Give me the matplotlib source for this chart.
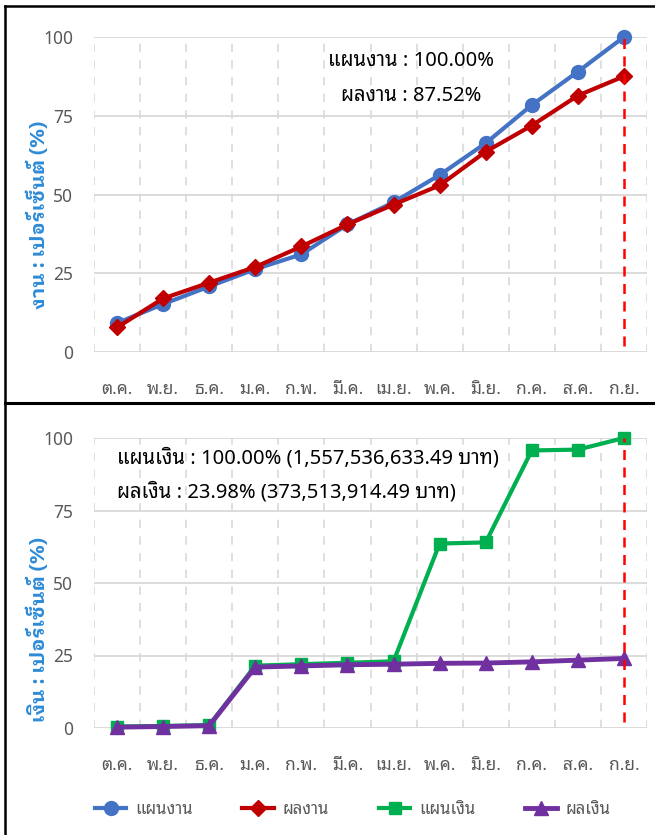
import matplotlib
matplotlib.use('Agg')
import matplotlib.pyplot as plt
from matplotlib.lines import Line2D

plt.rcParams['font.family'] = ['Noto Sans', 'Noto Sans Thai Looped', 'DejaVu Sans']

months = ['ต.ค.', 'พ.ย.', 'ธ.ค.', 'ม.ค.', 'ก.พ.', 'มี.ค.', 'เม.ย.', 'พ.ค.', 'มิ.ย.', 'ก.ค.', 'ส.ค.', 'ก.ย.']
plan_work = [9.2, 15.2, 20.8, 26.3, 31.0, 40.5, 47.5, 56.2, 66.3, 78.4, 89.0, 100.0]
result_work = [7.8, 17.0, 22.0, 27.0, 33.5, 40.5, 46.8, 52.9, 63.6, 71.9, 81.4, 87.52]
plan_money = [0.5, 0.7, 1.0, 21.5, 22.0, 22.5, 23.0, 63.6, 64.0, 95.7, 96.0, 100.0]
result_money = [0.3, 0.5, 0.8, 21.0, 21.4, 21.8, 22.0, 22.3, 22.4, 22.8, 23.4, 23.98]

C_BLUE = '#4472C4'
C_RED = '#C00000'
C_GREEN = '#00B050'
C_PURPLE = '#7030A0'
C_GRID = '#D9D9D9'
C_TICK = '#595959'
C_YLAB = '#2E8BD6'

W, H = 655, 835
fig = plt.figure(figsize=(W / 100, H / 100), dpi=100)
fig.patch.set_facecolor('white')

# panel frame lines (left edge, top edge, divider)
fig.add_artist(Line2D([5 / W, 5 / W], [0, 1 - 6 / H], transform=fig.transFigure, color='black', lw=1.8))
fig.add_artist(Line2D([5 / W, 1], [1 - 6 / H, 1 - 6 / H], transform=fig.transFigure, color='black', lw=1.8))
fig.add_artist(Line2D([5 / W, 1], [1 - 403 / H, 1 - 403 / H], transform=fig.transFigure, color='black', lw=2.2))

ax1 = fig.add_axes([94 / W, 1 - 352 / H, 553 / W, 315 / H])
ax2 = fig.add_axes([94 / W, 1 - 728 / H, 553 / W, 290 / H])

x = list(range(len(months)))


def style(ax, ylabel, ylab_y):
    ax.set_xlim(-0.5, len(months) - 0.5)
    ax.set_ylim(0, 100)
    ax.set_yticks([0, 25, 50, 75, 100])
    ax.set_xticks(x)
    ax.set_xticklabels(months)
    for s in ax.spines.values():
        s.set_visible(False)
    ax.tick_params(length=0, labelsize=12.5, colors=C_TICK)
    ax.tick_params(axis='y', pad=15)
    ax.tick_params(axis='x', pad=20)
    for yv in [0, 25, 50, 75, 100]:
        ax.axhline(yv, color=C_GRID, lw=1.3, zorder=0)
    for xv in [i - 0.5 for i in range(len(months) + 1)]:
        ax.plot([xv, xv], [0, 100], color=C_GRID, lw=1.2, ls=(0, (5, 5)), zorder=0)
    ax.set_ylabel(ylabel, color=C_YLAB, fontsize=14.5, fontweight='bold',
                  family=['IBM Plex Sans Thai Looped', 'DejaVu Sans'])
    ax.yaxis.set_label_coords(-0.082, ylab_y)
    ax.plot([11, 11], [2, 100], color='#FF0000', lw=1.8, ls=(0, (4, 3)), zorder=5, clip_on=False)


style(ax1, 'งาน : เปอร์เซ็นต์ (%)', 0.435)
style(ax2, 'เงิน : เปอร์เซ็นต์ (%)', 0.338)

ax1.plot(x, plan_work, color=C_BLUE, lw=3, marker='o', ms=10, clip_on=False, zorder=3)
ax1.plot(x, result_work, color=C_RED, lw=3, marker='D', ms=8, clip_on=False, zorder=4)
ax1.text(6.38, 92.3, 'แผนงาน : 100.00%', fontsize=14.5, ha='center', va='center')
ax1.text(6.38, 81.3, 'ผลงาน : 87.52%', fontsize=14.5, ha='center', va='center')

ax2.plot(x, plan_money, color=C_GREEN, lw=3, marker='s', ms=9, clip_on=False, zorder=3)
ax2.plot(x, result_money, color=C_PURPLE, lw=3.5, marker='^', ms=10, clip_on=False, zorder=4)
ax2.text(0.0, 93.0, 'แผนเงิน : 100.00% (1,557,536,633.49 บาท)', fontsize=14.5, ha='left', va='center')
ax2.text(0.0, 81.3, 'ผลเงิน : 23.98% (373,513,914.49 บาท)', fontsize=14.5, ha='left', va='center')

handles = [
    Line2D([], [], color=C_BLUE, lw=3, marker='o', ms=10),
    Line2D([], [], color=C_RED, lw=3, marker='D', ms=8),
    Line2D([], [], color=C_GREEN, lw=3, marker='s', ms=9),
    Line2D([], [], color=C_PURPLE, lw=3.5, marker='^', ms=10),
]
labels = ['แผนงาน', 'ผลงาน', 'แผนเงิน', 'ผลเงิน']
fig.legend(handles, labels, loc='center', bbox_to_anchor=(0.538, 1 - 810 / H), ncol=4,
           frameon=False, fontsize=12, handlelength=1.9, columnspacing=3.0, handletextpad=0.5,
           labelcolor=C_TICK)

fig.savefig('out.png', dpi=100, facecolor='white')
